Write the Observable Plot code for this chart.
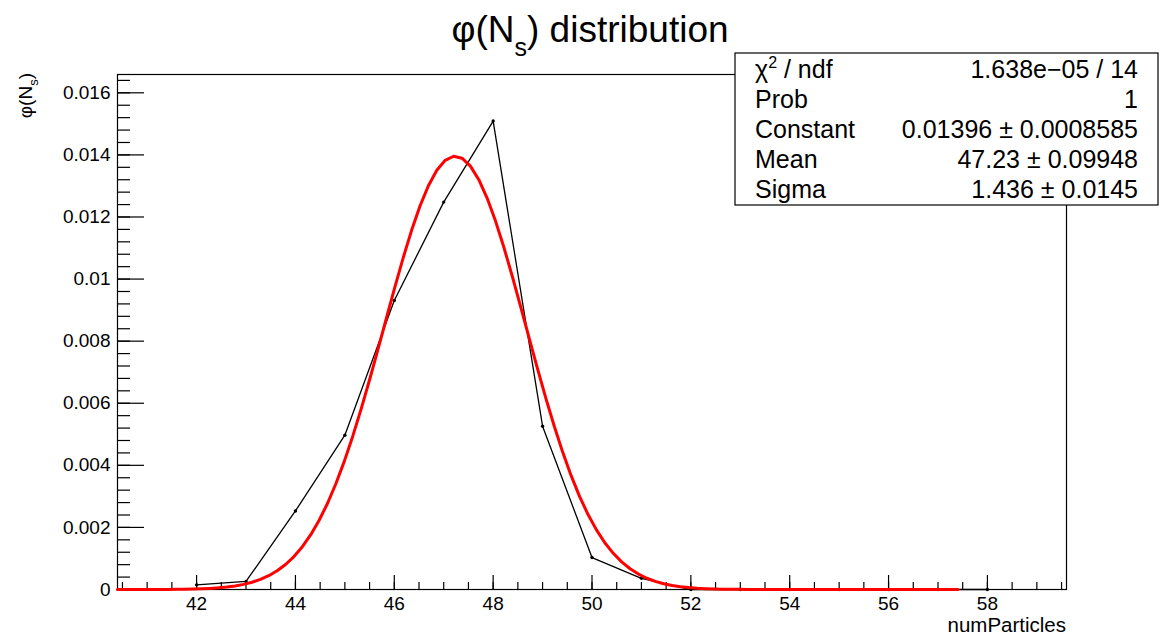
<!DOCTYPE html>
<html><head><meta charset="utf-8">
<script src="https://cdn.jsdelivr.net/npm/d3@7"></script>
<script src="https://cdn.jsdelivr.net/npm/@observablehq/plot@0.6"></script>
<style>
body{margin:0;background:#fff;}
svg{font-family:"Liberation Sans",Arial,Helvetica,sans-serif;}
</style>
</head><body><div id="chart"></div>
<script>
// ---- data ----
const numParticles = [42,43,44,45,46,47,48,49,50,51,52,53,54,55,56,57,58];
const phiValues   = [0.00015,0.00026,0.00253,0.00497,0.00931,0.01248,0.01509,0.00526,0.00103,0.00036,0,0,0,0,0,0,0];
// Gaussian fit parameters from the stats box: Constant, Mean, Sigma
const fitParams = [0.01396, 47.23, 1.436];
const fitRange = [40.4, 57.4];
const xMajorTicks = [42,44,46,48,50,52,54,56,58];
const yMajorTicks = [0,0.002,0.004,0.006,0.008,0.01,0.012,0.014,0.016];
const statLabels = ["χ2 / ndf","Prob","Constant","Mean","Sigma"];
const statValues = ["1.638e\u221205 / 14","1","0.01396 \u00b1 0.0008585","47.23 \u00b1 0.09948","1.436 \u00b1 0.0145"];

const xMinorTicks = d3.range(81, 120).map(k => k/2);
const yMinorTicks = d3.range(0, 42).map(k => k*0.0004);

const graph = numParticles.map((n,i)=>({n, phi: phiValues[i]}));
const npx = 100;
const fit = d3.range(npx+1).map(i=>{
  const x = fitRange[0] + (fitRange[1]-fitRange[0])*i/npx;
  const [c,m,s] = fitParams;
  return {x, y: c*Math.exp(-0.5*((x-m)/s)**2)};
});

const fmtY = d => String(+d.toFixed(3));

const svg = Plot.plot({
  width:1160, height:639,
  marginLeft:117, marginRight:94, marginTop:74, marginBottom:50,
  x:{domain:[40.4,59.6]},
  y:{domain:[0,0.01659]},
  style:{fontFamily:'"Liberation Sans",Arial,sans-serif', fontSize:"19px", background:"white", color:"black"},
  marks:[
    Plot.frame({stroke:"black", strokeWidth:1.2}),
    Plot.axisX(xMinorTicks,{tickSize:-7, tickFormat:()=>"", label:null, strokeWidth:1.2}),
    Plot.axisX(xMajorTicks,{tickSize:-14, tickPadding:21, tickFormat:d=>String(d), label:null, strokeWidth:1.2, fontSize:19}),
    Plot.axisY(yMinorTicks,{tickSize:-13, tickFormat:()=>"", label:null, strokeWidth:1.2}),
    Plot.axisY(yMajorTicks,{tickSize:-27, tickPadding:34, tickFormat:fmtY, label:null, strokeWidth:1.2, fontSize:19}),
    Plot.line(graph,{x:"n", y:"phi", stroke:"black", strokeWidth:1.3}),
    Plot.dot(graph,{x:"n", y:"phi", r:1.7, fill:"black"}),
    Plot.line(fit,{x:"x", y:"y", stroke:"red", strokeWidth:3})
  ]
});

const g = d3.select(svg);
// title
const t = g.append("text").attr("x",590).attr("y",42).attr("text-anchor","middle").attr("font-size",37).attr("fill","black");
t.append("tspan").text("φ(N");
t.append("tspan").attr("font-size",25).attr("dy",14).text("s");
t.append("tspan").attr("dy",-14).text(") distribution");
// y label
const yl = g.append("text").attr("transform","translate(32,73) rotate(-90)").attr("text-anchor","end").attr("font-size",19).attr("fill","black");
yl.append("tspan").text("φ(N");
yl.append("tspan").attr("font-size",13).attr("dy",6).text("s");
yl.append("tspan").attr("dy",-6).text(")");
// x label
g.append("text").attr("x",1066).attr("y",632).attr("text-anchor","end").attr("font-size",20.5).attr("fill","black").text("numParticles");
// stats box
g.append("rect").attr("x",735).attr("y",53).attr("width",423).attr("height",152).attr("fill","white").attr("stroke","black").attr("stroke-width",1.2);
statLabels.forEach((lab,i)=>{
  const y = 78 + i*30;
  const tl = g.append("text").attr("x",755).attr("y",y).attr("text-anchor","start").attr("font-size",25).attr("fill","black");
  if (i===0){
    tl.append("tspan").text("χ");
    tl.append("tspan").attr("font-size",16).attr("dy",-10).text("2");
    tl.append("tspan").attr("dy",10).text(" / ndf");
  } else tl.text(lab);
  g.append("text").attr("x",1138).attr("y",y).attr("text-anchor","end").attr("font-size",25).attr("fill","black").text(statValues[i]);
});

document.getElementById("chart").appendChild(svg);
</script></body></html>
